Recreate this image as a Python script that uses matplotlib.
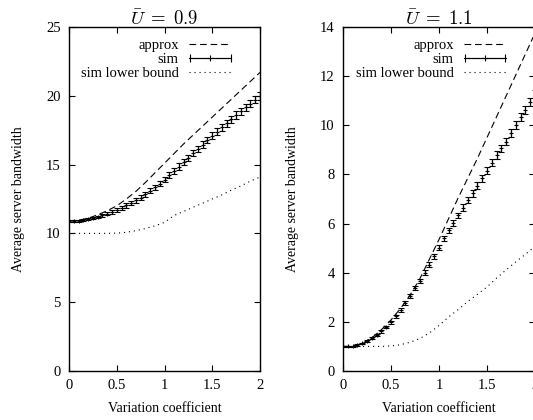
import numpy as np
import matplotlib
matplotlib.use("Agg")
import matplotlib.pyplot as plt
from matplotlib.legend_handler import HandlerErrorbar

plt.rcParams['font.family'] = ['Liberation Serif', 'DejaVu Serif']
plt.rcParams['mathtext.fontset'] = 'cm'

# x grids
x_sim = [0.00, 0.05, 0.10, 0.15, 0.20, 0.25, 0.30, 0.35, 0.40, 0.45,
         0.50, 0.55, 0.60, 0.65, 0.70, 0.75, 0.80, 0.85, 0.90, 0.95,
         1.00, 1.05, 1.10, 1.15, 1.20, 1.25, 1.30, 1.35, 1.40, 1.45,
         1.50, 1.55, 1.60, 1.65, 1.70, 1.75, 1.80, 1.85, 1.90, 1.95, 2.00]
x_line = [0.0, 0.1, 0.2, 0.3, 0.4, 0.5, 0.6, 0.7, 0.8, 0.9, 1.0,
          1.1, 1.2, 1.3, 1.4, 1.5, 1.6, 1.7, 1.8, 1.9, 2.0]

# U = 0.9
approx_09 = [10.9, 10.95, 11.1, 11.35, 11.65, 12.0, 12.5, 13.05, 13.7, 14.4, 15.1,
             15.8, 16.5, 17.15, 17.8, 18.45, 19.1, 19.75, 20.4, 21.05, 21.7]
lower_09 = [10.0, 10.0, 10.0, 10.0, 10.0, 10.02, 10.08, 10.2, 10.35, 10.55, 10.8,
            11.3, 11.6, 11.9, 12.2, 12.5, 12.8, 13.15, 13.45, 13.8, 14.1]
sim_09 = [10.90, 10.90, 10.92, 10.96, 11.02, 11.10, 11.20, 11.31, 11.43, 11.56,
          11.70, 11.86, 12.03, 12.21, 12.40, 12.60, 12.84, 13.09, 13.35, 13.62,
          13.90, 14.22, 14.54, 14.86, 15.18, 15.50, 15.82, 16.14, 16.46, 16.78,
          17.10, 17.40, 17.70, 18.00, 18.30, 18.60, 18.88, 19.16, 19.44, 19.72, 20.00]
err_09 = [0.05, 0.05, 0.06, 0.06, 0.07, 0.08, 0.09, 0.10, 0.11, 0.12,
          0.13, 0.14, 0.15, 0.16, 0.17, 0.18, 0.18, 0.19, 0.19, 0.20,
          0.20, 0.21, 0.21, 0.22, 0.22, 0.22, 0.23, 0.23, 0.23, 0.24,
          0.24, 0.24, 0.25, 0.25, 0.25, 0.26, 0.26, 0.26, 0.27, 0.27, 0.27]

# U = 1.1
approx_11 = [1.0, 1.01, 1.12, 1.35, 1.68, 2.08, 2.55, 3.1, 3.75, 4.55, 5.35,
             6.2, 7.05, 7.85, 8.65, 9.5, 10.35, 11.2, 12.05, 12.9, 13.75]
lower_11 = [1.0, 1.0, 1.0, 1.0, 1.0, 1.02, 1.07, 1.17, 1.32, 1.55, 1.85,
            2.2, 2.5, 2.83, 3.12, 3.42, 3.78, 4.12, 4.44, 4.75, 5.07]
sim_11 = [1.00, 1.00, 1.01, 1.05, 1.12, 1.22, 1.33, 1.46, 1.61, 1.79,
          1.99, 2.22, 2.49, 2.77, 3.07, 3.37, 3.67, 4.00, 4.33, 4.66,
          5.02, 5.40, 5.72, 6.02, 6.33, 6.65, 6.96, 7.23, 7.54, 7.84,
          8.15, 8.48, 8.79, 9.06, 9.33, 9.67, 10.01, 10.32, 10.62, 10.96, 11.28]
err_11 = [0.02, 0.02, 0.02, 0.03, 0.03, 0.04, 0.04, 0.05, 0.05, 0.06,
          0.06, 0.07, 0.07, 0.08, 0.08, 0.09, 0.09, 0.10, 0.10, 0.10,
          0.11, 0.11, 0.12, 0.12, 0.12, 0.13, 0.13, 0.13, 0.14, 0.14,
          0.14, 0.15, 0.15, 0.15, 0.15, 0.16, 0.16, 0.16, 0.16, 0.17, 0.17]

fig = plt.figure(figsize=(5.33, 4.2), dpi=100)
ax1 = fig.add_axes([69/533, 49/420, 191/533, 344/420])
ax2 = fig.add_axes([343/533, 49/420, 192/533, 344/420])

panels = [(ax1, approx_09, sim_09, err_09, lower_09, r'$\bar{U}\;=\;0.9$', 25, 5),
          (ax2, approx_11, sim_11, err_11, lower_11, r'$\bar{U}\;=\;1.1$', 14, 2)]

for ax, ap, sm, er, lb, title, ymax, ystep in panels:
    ax.plot(x_line, ap, color='k', lw=0.8, dashes=(6, 3.5))
    ax.errorbar(x_sim, sm, yerr=er, fmt='+', color='k', ms=3, mew=0.8,
                elinewidth=0.9, capsize=2.2, capthick=0.9)
    ax.plot(x_line, lb, color='k', lw=0.8, dashes=(1, 3.5))
    # legend proxies
    h1, = ax.plot([], [], color='k', lw=0.8, dashes=(6, 3.5))
    h2 = ax.errorbar([-5], [-5], xerr=[1], fmt='-+', color='k', ms=4, mew=0.8,
                     lw=0.8, elinewidth=0.8, capsize=3, capthick=0.8)
    h3, = ax.plot([], [], color='k', lw=0.8, dashes=(1, 3.5))
    ax.legend([h1, h2, h3], ['approx', 'sim', 'sim lower bound'],
              loc='upper right', bbox_to_anchor=(0.85, 0.965),
              frameon=False, markerfirst=False, fontsize=10.5,
              handlelength=2.9, handletextpad=0.7, labelspacing=0.05,
              borderpad=0, borderaxespad=0,
              handler_map={h2: HandlerErrorbar(xerr_size=1.4)})
    ax.set_xlim(0, 2)
    ax.set_ylim(0, ymax)
    ax.set_xticks([0, 0.5, 1, 1.5, 2])
    ax.set_xticklabels(['0', '0.5', '1', '1.5', '2'])
    ax.set_yticks(np.arange(0, ymax + 1, ystep))
    ax.tick_params(direction='in', length=4, width=0.8, top=True, right=True,
                   labelsize=10.5, pad=6)
    for s in ax.spines.values():
        s.set_linewidth(1.0)
    ax.set_title(title, fontsize=13.5, pad=2)
    ax.set_xlabel('Variation coefficient', fontsize=10)
    ax.set_ylabel('Average server bandwidth', fontsize=10)
    ax.xaxis.set_label_coords(0.5, -0.09)
    ax.yaxis.set_label_coords(-0.23, 0.5)

fig.savefig('out.png', dpi=100)
